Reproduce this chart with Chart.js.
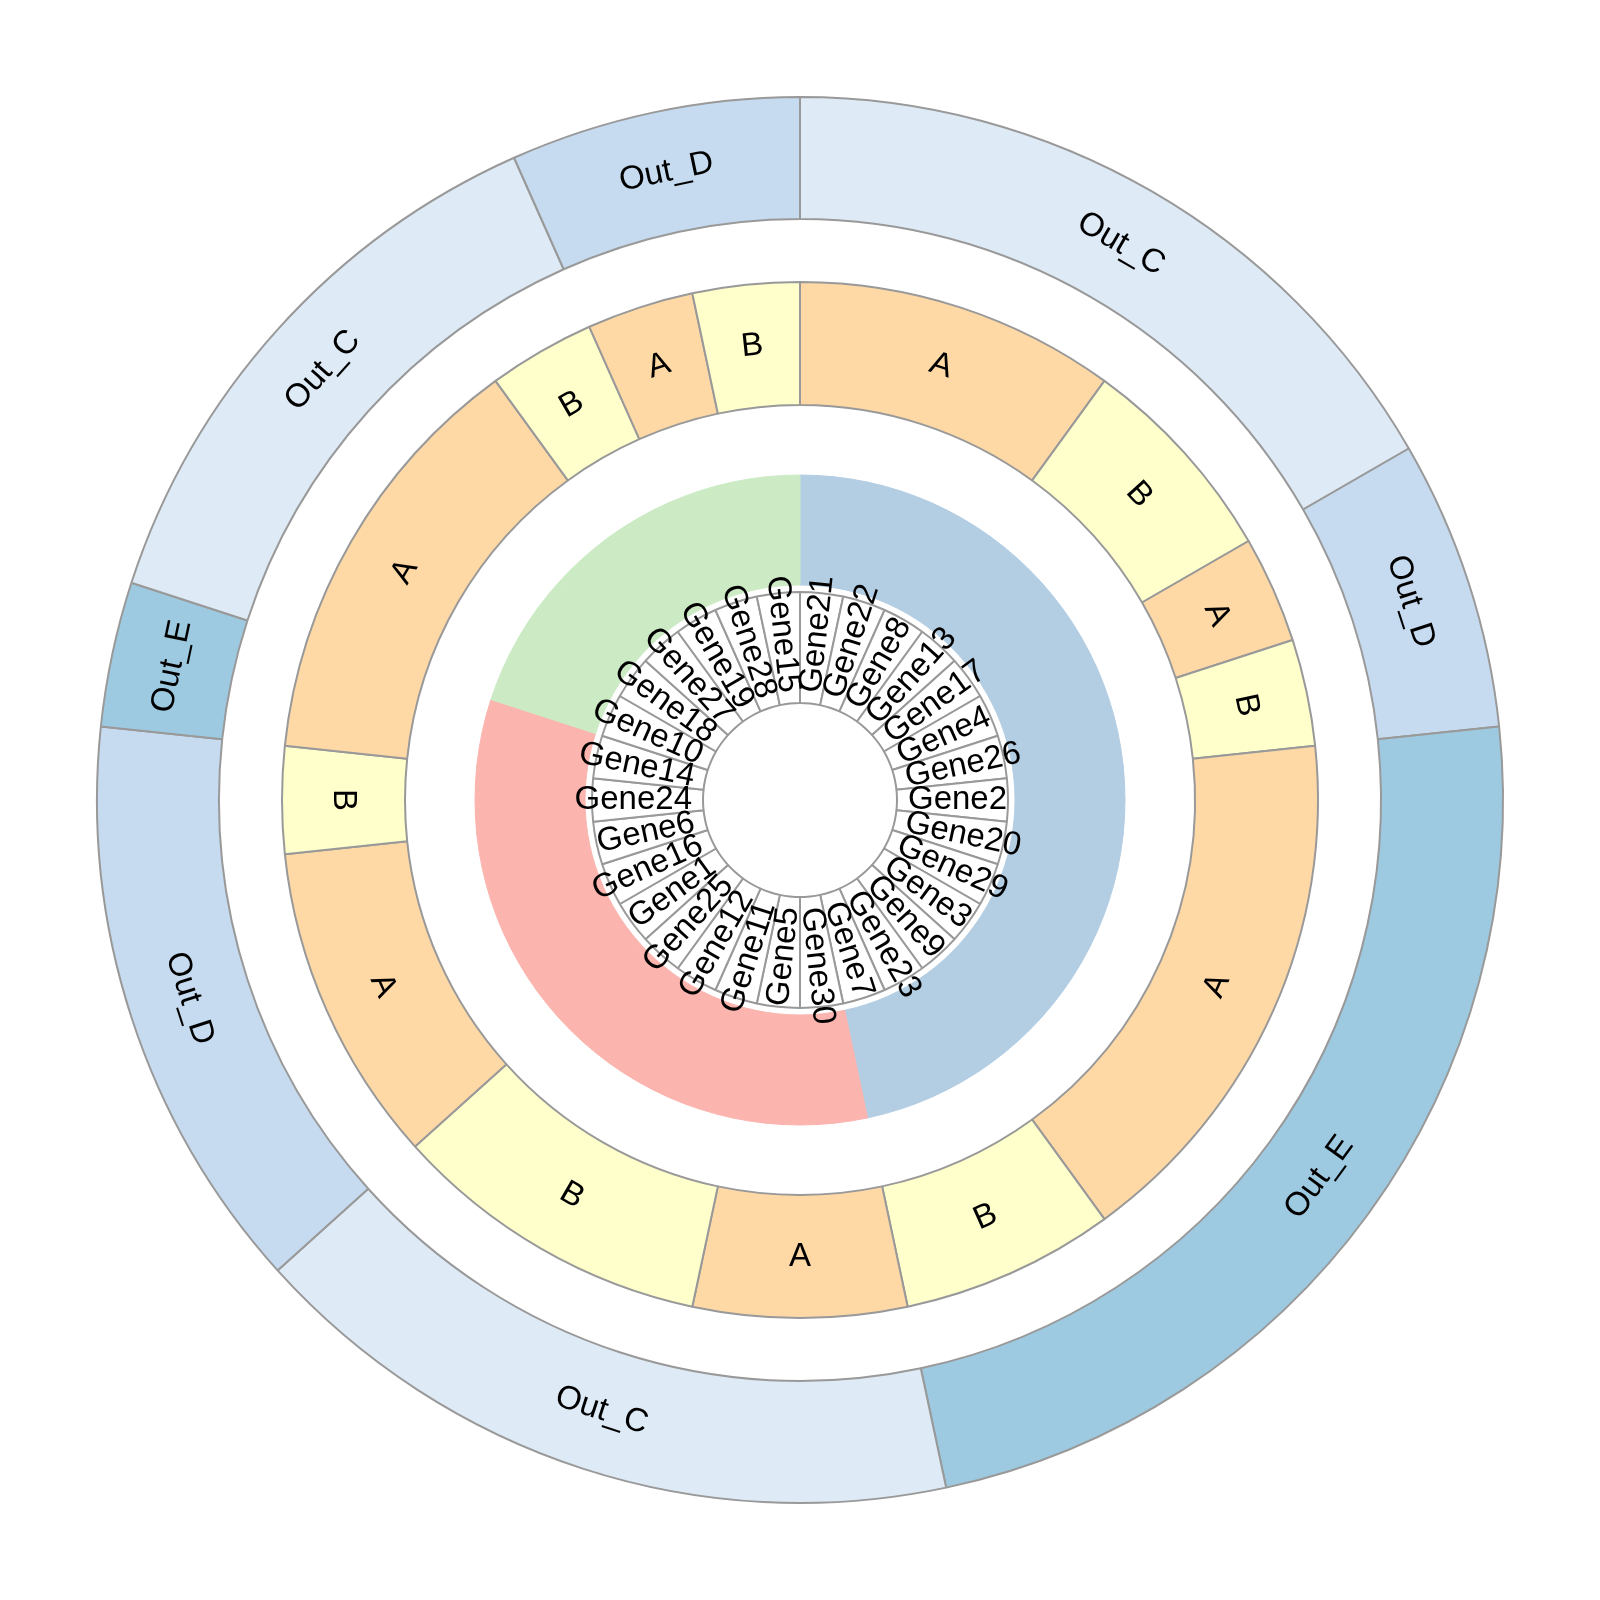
<!DOCTYPE html>
<html><head><meta charset="utf-8">
<script src="https://cdn.jsdelivr.net/npm/chart.js@4.4.1/dist/chart.umd.min.js"></script>
<style>html,body{margin:0;padding:0;background:#fff;} #wrap{width:1600px;height:1600px;position:relative;}</style>
</head><body><div id="wrap"><canvas id="c" width="1600" height="1600"></canvas></div>
<script>
// ---- data ----
const geneNames = ['Gene21','Gene22','Gene8','Gene13','Gene17','Gene4','Gene26','Gene2','Gene20','Gene29',
  'Gene3','Gene9','Gene23','Gene7','Gene30','Gene5','Gene11','Gene12','Gene25','Gene1',
  'Gene16','Gene6','Gene24','Gene14','Gene10','Gene18','Gene27','Gene19','Gene28','Gene15'];
const geneGroups = ['G1','G1','G1','G1','G1','G1','G1','G1','G1','G1',
  'G1','G1','G1','G1','G2','G2','G2','G2','G2','G2',
  'G2','G2','G2','G2','G3','G3','G3','G3','G3','G3'];
const midLabels = ['A','B','A','B','A','B','A','B','A','B','A','B','A','B'];
const midSpans  = [3,2,1,1,5,2,2,3,3,1,4,1,1,1];
const outerLabels = ['Out_C','Out_D','Out_E','Out_C','Out_D','Out_E','Out_C','Out_D'];
const outerSpans  = [5,2,7,5,4,1,4,2];

// ---- styles ----
const groupColors = {G1:'#b3cde3', G2:'#fbb4ae', G3:'#ccebc5'};
const midColors = {A:'#fed9a6', B:'#ffffcc'};
const outerColors = {Out_C:'#deebf7', Out_D:'#c6dbef', Out_E:'#9ecae1'};
const EDGE = '#999999';
const FONT = '33px "Liberation Sans", Arial, Helvetica, sans-serif';

const spacer = w => ({data:[1], backgroundColor:'rgba(0,0,0,0)', borderWidth:0, weight:w});

const labelPlugin = {
  id:'ringLabels',
  afterDatasetsDraw(chart){
    const ctx = chart.ctx;
    chart.data.datasets.forEach((ds, di) => {
      if (!ds.ringLabels) return;
      const meta = chart.getDatasetMeta(di);
      meta.data.forEach((el, i) => {
        const p = el.getProps(['x','y','startAngle','endAngle','innerRadius','outerRadius'], true);
        const mid = (p.startAngle + p.endAngle) / 2;
        let theta = (mid * 180 / Math.PI + 90) % 360; if (theta < 0) theta += 360;
        ctx.save();
        ctx.font = FONT; ctx.fillStyle = '#000'; ctx.textBaseline = 'middle';
        if (ds.ringKind === 'gene') {
          const r = p.innerRadius + 11;
          ctx.translate(p.x + r*Math.cos(mid), p.y + r*Math.sin(mid));
          if (theta < 180) { ctx.rotate((theta-90)*Math.PI/180); ctx.textAlign='left'; }
          else { ctx.rotate((theta-270)*Math.PI/180); ctx.textAlign='right'; }
        } else {
          const r = (p.innerRadius + p.outerRadius)/2;
          ctx.translate(p.x + r*Math.cos(mid), p.y + r*Math.sin(mid));
          const rot = (theta > 90 && theta <= 270) ? theta-180 : theta;
          ctx.rotate(rot*Math.PI/180); ctx.textAlign='center';
        }
        ctx.fillText(ds.ringLabels[i], 0, 0);
        ctx.restore();
      });
    });
  }
};

const groupFill = geneGroups.map(g=>groupColors[g]);

new Chart(document.getElementById('c'), {
  type:'doughnut',
  data:{
    labels: geneNames,
    datasets:[
      {data: outerSpans, ringLabels: outerLabels, ringKind:'ring', backgroundColor: outerLabels.map(l=>outerColors[l]),
       borderColor: EDGE, borderWidth:2, weight:122},
      spacer(63),
      {data: midSpans, ringLabels: midLabels, ringKind:'ring', backgroundColor: midLabels.map(l=>midColors[l]),
       borderColor: EDGE, borderWidth:2, weight:123},
      spacer(70),
      {data: geneGroups.map(()=>1), backgroundColor: groupFill,
       borderColor: groupFill, borderWidth:1, borderJoinStyle:'miter', weight:110},
      spacer(7),
      {data: geneNames.map(()=>1), ringLabels: geneNames, ringKind:'gene', backgroundColor:'#ffffff',
       borderColor: EDGE, borderWidth:2, weight:111}
    ]
  },
  options:{
    responsive:false, animation:false, events:[],
    radius: 703, cutout: (97/703*100)+'%',
    layout:{padding:0},
    plugins:{legend:{display:false}, tooltip:{enabled:false}}
  },
  plugins:[labelPlugin]
});
</script></body></html>
